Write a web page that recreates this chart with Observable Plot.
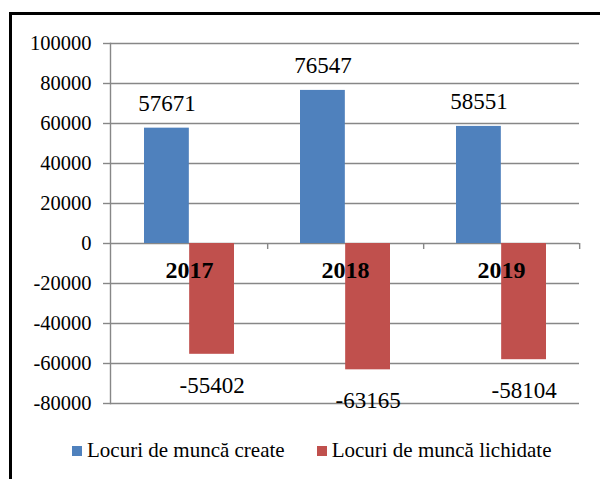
<!DOCTYPE html>
<html>
<head>
<meta charset="utf-8">
<script src="https://cdn.jsdelivr.net/npm/d3@7"></script>
<script src="https://cdn.jsdelivr.net/npm/@observablehq/plot@0.6"></script>
<style>
  html, body { margin: 0; padding: 0; background: #fff; }
  body { width: 600px; height: 479px; overflow: hidden; position: relative; font-family: "Liberation Serif", "Times New Roman", serif; }
  #frame { position: absolute; left: 9px; top: 12px; width: 700px; height: 600px; border-top: 3px solid #000; border-left: 3px solid #000; pointer-events: none; }
  #chart { position: absolute; left: 0; top: 0; }
  #legend { position: absolute; left: 72px; top: 438px; display: flex; align-items: center; font-size: 21px; color: #000; white-space: nowrap; }
  .item { display: flex; align-items: center; }
  .sw { width: 10px; height: 10px; margin-right: 5px; }
</style>
</head>
<body>
<div id="chart"></div>
<div id="legend"></div>
<div id="frame"></div>
<script>
const years = ["2017", "2018", "2019"];
const created = [57671, 76547, 58551];
const liquidated = [-55402, -63165, -58104];
const seriesNames = ["Locuri de muncă create", "Locuri de muncă lichidate"];
const colors = ["#4F81BD", "#C0504D"];
const yTicks = [-80000, -60000, -40000, -20000, 0, 20000, 40000, 60000, 80000, 100000];

const createdRows = years.map((y, i) => ({year: y, value: created[i]}));
const liquidatedRows = years.map((y, i) => ({year: y, value: liquidated[i]}));

const W = 600, ML = 110, MR = 21;
const bw = (W - ML - MR) / years.length;
const outer = 33;
const half = bw / 2;
const barOff = (half - outer) / 2;
const grid = "#878787";
const serif = "'Liberation Serif', 'Times New Roman', serif";

const chart = Plot.plot({
  width: W,
  height: 420,
  marginLeft: ML,
  marginRight: MR,
  marginTop: 43,
  marginBottom: 17,
  x: {domain: years, padding: 0, axis: null},
  y: {domain: [-80000, 100000], axis: null},
  style: {fontFamily: serif, color: "#000", background: "transparent", overflow: "visible"},
  marks: [
    Plot.gridY(yTicks, {stroke: grid, strokeOpacity: 1, strokeWidth: 1.4}),
    Plot.frame({anchor: "left", stroke: grid, strokeWidth: 1.4}),
    Plot.axisY(yTicks, {label: null, tickSize: 7, tickPadding: 12, stroke: grid, strokeWidth: 1.4, fontSize: 20.5, fontFamily: serif, fill: "#000", tickFormat: d => String(d)}),
    Plot.ruleX(years, {x: d => d, dx: half, y1: 0, y2: -3000, stroke: grid, strokeWidth: 1.4}),
    Plot.barY(createdRows, {x: "year", y1: 0, y2: "value", fill: colors[0], insetLeft: outer, insetRight: half}),
    Plot.barY(liquidatedRows, {x: "year", y1: 0, y2: "value", fill: colors[1], insetLeft: half, insetRight: outer}),
    Plot.text(createdRows, {x: "year", y: "value", text: d => String(d.value), dx: -barOff, dy: -25, fontSize: 23, fontFamily: serif, fill: "#000"}),
    Plot.text(liquidatedRows, {x: "year", y: "value", text: d => String(d.value), dx: barOff, dy: 31, fontSize: 23, fontFamily: serif, fill: "#000"}),
    Plot.text(years, {x: d => d, y: () => 0, text: d => d, dy: 27, fontSize: 24, fontWeight: "bold", fontFamily: serif, fill: "#000"})
  ]
});
document.getElementById("chart").appendChild(chart);

const legend = document.getElementById("legend");
seriesNames.forEach((name, i) => {
  const item = document.createElement("div");
  item.className = "item";
  if (i > 0) item.style.marginLeft = "32px";
  const sw = document.createElement("div");
  sw.className = "sw";
  sw.style.background = colors[i];
  const t = document.createElement("span");
  t.textContent = name;
  item.appendChild(sw);
  item.appendChild(t);
  legend.appendChild(item);
});
</script>
</body>
</html>
